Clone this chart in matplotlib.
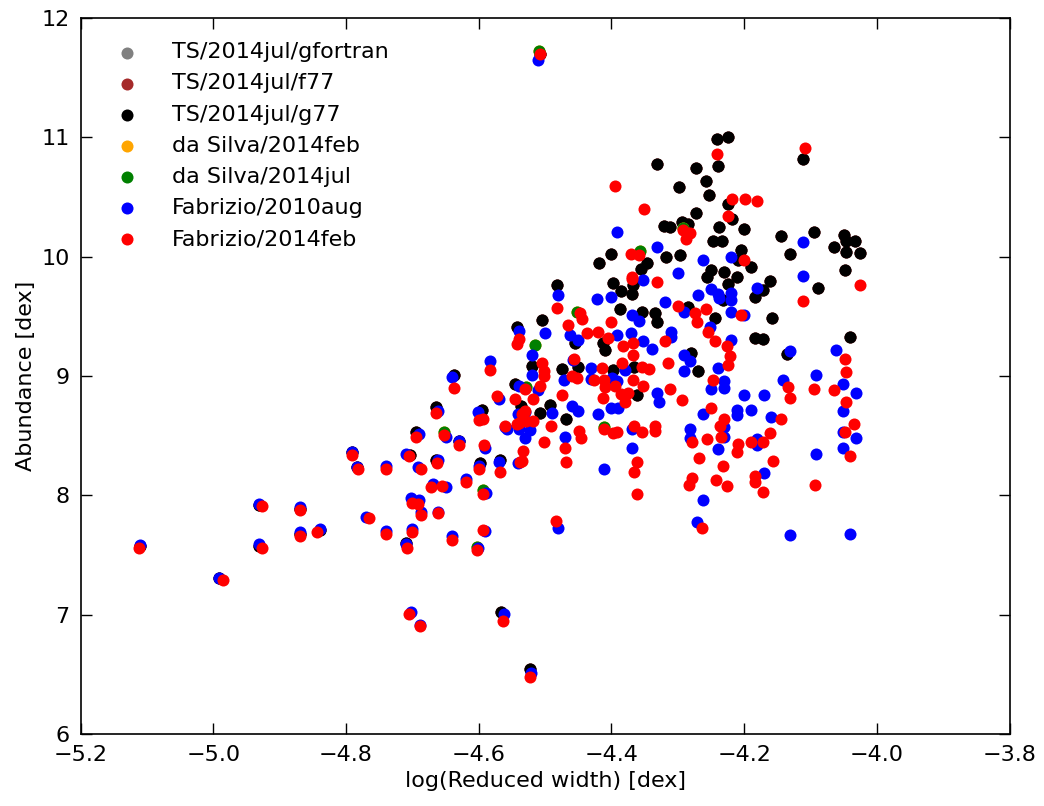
import numpy as np
import matplotlib
matplotlib.use("Agg")
import matplotlib.pyplot as plt
from matplotlib.ticker import MultipleLocator

# === DATA (log reduced width [dex], abundance [dex]) ===
labels = ["TS/2014jul/gfortran", "TS/2014jul/f77", "TS/2014jul/g77",
          "da Silva/2014feb", "da Silva/2014jul",
          "Fabrizio/2010aug", "Fabrizio/2014feb"]
colors = ["gray", "brown", "black", "orange", "green", "blue", "red"]

ts_g77 = [
    (-5.111, 7.58), (-4.991, 7.31), (-4.931, 7.92), (-4.931, 7.58), (-4.870, 7.89),
    (-4.870, 7.68), (-4.839, 7.71), (-4.791, 8.36), (-4.784, 8.24),
    (-4.664, 8.745), (-4.595, 8.72), (-4.545, 8.935), (-4.694, 8.53), (-4.629, 8.46),
    (-4.704, 8.34), (-4.664, 8.30), (-4.568, 8.30), (-4.598, 8.27), (-4.709, 7.60),
    (-4.566, 7.02), (-4.523, 6.545), (-4.637, 9.005), (-4.508, 11.70),
    (-4.482, 9.765), (-4.398, 9.78), (-4.385, 9.71), (-4.369, 9.69), (-4.367, 9.76),
    (-4.387, 9.56), (-4.354, 9.535), (-4.335, 9.53), (-4.332, 9.455), (-4.505, 9.47),
    (-4.543, 9.41), (-4.455, 9.275), (-4.412, 9.275), (-4.410, 9.22), (-4.519, 9.085),
    (-4.475, 9.06), (-4.450, 9.075), (-4.397, 9.05), (-4.366, 9.075), (-4.362, 8.84),
    (-4.536, 8.75), (-4.507, 8.69), (-4.493, 8.76), (-4.469, 8.64),
    (-4.332, 10.78), (-4.400, 10.02), (-4.419, 9.95), (-4.347, 9.95), (-4.356, 9.90),
    (-4.241, 10.985), (-4.225, 11.0), (-4.240, 10.76), (-4.111, 10.82), (-4.272, 10.74),
    (-4.258, 10.635), (-4.298, 10.58), (-4.253, 10.52), (-4.224, 10.44), (-4.273, 10.37),
    (-4.218, 10.315), (-4.321, 10.26), (-4.312, 10.25), (-4.293, 10.29), (-4.284, 10.275),
    (-4.238, 10.245), (-4.200, 10.23), (-4.095, 10.21), (-4.145, 10.17), (-4.247, 10.135),
    (-4.234, 10.13), (-4.204, 10.06), (-4.131, 10.02), (-4.317, 9.995), (-4.296, 10.01),
    (-4.209, 9.97), (-4.190, 9.91), (-4.250, 9.89), (-4.256, 9.83), (-4.230, 9.875),
    (-4.210, 9.83), (-4.225, 9.77), (-4.172, 9.72), (-4.184, 9.66), (-4.161, 9.80),
    (-4.089, 9.735), (-4.232, 9.64), (-4.284, 9.58), (-4.244, 9.49), (-4.158, 9.485),
    (-4.184, 9.32), (-4.171, 9.31), (-4.280, 9.195), (-4.269, 9.04), (-4.136, 9.185),
    (-4.065, 10.08), (-4.049, 10.18), (-4.046, 10.13), (-4.033, 10.13), (-4.046, 10.04),
    (-4.025, 10.03), (-4.048, 9.89), (-4.040, 9.33),
]

dasilva_jul = [
    (-4.652, 8.535), (-4.594, 8.045), (-4.602, 7.57), (-4.509, 11.725), (-4.452, 9.54),
    (-4.528, 8.905), (-4.411, 8.575), (-4.357, 10.045), (-4.292, 10.24), (-4.515, 9.26),
]

fab_2010aug = [
    (-5.111, 7.585), (-4.991, 7.31), (-4.931, 7.93), (-4.931, 7.59), (-4.870, 7.90),
    (-4.870, 7.69), (-4.839, 7.72), (-4.791, 8.36), (-4.784, 8.24),
    (-4.640, 8.99), (-4.570, 8.81), (-4.540, 8.555), (-4.662, 8.71), (-4.601, 8.70),
    (-4.557, 8.555), (-4.690, 8.515), (-4.650, 8.49), (-4.629, 8.46), (-4.590, 8.395),
    (-4.710, 8.35), (-4.662, 8.30), (-4.569, 8.28), (-4.541, 8.275), (-4.740, 8.25),
    (-4.691, 8.24), (-4.599, 8.25), (-4.669, 8.10), (-4.649, 8.07), (-4.619, 8.135),
    (-4.589, 8.02), (-4.702, 7.98), (-4.690, 7.96), (-4.770, 7.82), (-4.687, 7.86),
    (-4.661, 7.865), (-4.739, 7.70), (-4.700, 7.72), (-4.640, 7.66), (-4.590, 7.70),
    (-4.710, 7.59), (-4.601, 7.56), (-4.702, 7.02), (-4.688, 6.915), (-4.562, 7.005),
    (-4.481, 7.73), (-4.521, 6.51), (-4.510, 11.65), (-4.583, 9.13),
    (-4.481, 9.68), (-4.352, 9.805), (-4.421, 9.645), (-4.401, 9.66), (-4.369, 9.51),
    (-4.359, 9.465), (-4.540, 9.38), (-4.500, 9.36), (-4.462, 9.345), (-4.450, 9.30),
    (-4.391, 9.345), (-4.370, 9.36), (-4.352, 9.29), (-4.339, 9.23), (-4.520, 9.18),
    (-4.520, 9.01), (-4.472, 8.97), (-4.458, 9.135), (-4.431, 9.07), (-4.380, 9.05),
    (-4.431, 8.975), (-4.392, 8.955), (-4.399, 8.98), (-4.332, 8.855), (-4.329, 8.785),
    (-4.540, 8.92), (-4.510, 8.88), (-4.541, 8.68), (-4.530, 8.70), (-4.490, 8.69),
    (-4.460, 8.75), (-4.450, 8.71), (-4.420, 8.68), (-4.400, 8.73), (-4.390, 8.73),
    (-4.560, 8.575), (-4.530, 8.48), (-4.523, 8.55), (-4.470, 8.49), (-4.369, 8.40),
    (-4.369, 8.555), (-4.411, 8.22),
    (-4.391, 10.21), (-4.332, 10.08),
    (-4.111, 10.12), (-4.262, 9.97), (-4.220, 10.0), (-4.300, 9.86), (-4.180, 9.735),
    (-4.111, 9.84), (-4.270, 9.675), (-4.250, 9.73), (-4.240, 9.69), (-4.238, 9.65),
    (-4.220, 9.70), (-4.220, 9.64), (-4.320, 9.62), (-4.290, 9.54), (-4.220, 9.54),
    (-4.200, 9.51), (-4.251, 9.41), (-4.310, 9.37), (-4.310, 9.33), (-4.220, 9.30),
    (-4.131, 9.21),
    (-4.290, 9.18), (-4.281, 9.13), (-4.290, 9.04), (-4.240, 9.065), (-4.141, 8.97),
    (-4.091, 9.01), (-4.230, 8.96), (-4.230, 8.90), (-4.250, 8.89), (-4.200, 8.84),
    (-4.170, 8.84), (-4.210, 8.72), (-4.210, 8.675), (-4.190, 8.72), (-4.262, 8.68),
    (-4.160, 8.655), (-4.281, 8.555), (-4.281, 8.485), (-4.230, 8.57), (-4.230, 8.49),
    (-4.240, 8.39), (-4.180, 8.47), (-4.180, 8.42), (-4.091, 8.35), (-4.170, 8.19),
    (-4.262, 7.96), (-4.271, 7.78), (-4.131, 7.67),
    (-4.061, 9.22), (-4.051, 8.93), (-4.031, 8.86), (-4.051, 8.71), (-4.051, 8.53),
    (-4.031, 8.48), (-4.051, 8.40), (-4.041, 7.68),
]

fab_2014feb = [
    (-5.112, 7.56), (-4.986, 7.29), (-4.926, 7.91), (-4.926, 7.56), (-4.870, 7.88),
    (-4.869, 7.66), (-4.844, 7.69), (-4.791, 8.34), (-4.782, 8.22),
    (-4.637, 8.90), (-4.573, 8.83), (-4.545, 8.81), (-4.664, 8.69), (-4.599, 8.63),
    (-4.593, 8.64), (-4.561, 8.58), (-4.543, 8.60), (-4.694, 8.49), (-4.652, 8.51),
    (-4.629, 8.42), (-4.592, 8.42), (-4.705, 8.33), (-4.663, 8.27), (-4.568, 8.20),
    (-4.538, 8.28), (-4.739, 8.22), (-4.687, 8.22), (-4.599, 8.22), (-4.672, 8.07),
    (-4.655, 8.08), (-4.619, 8.11), (-4.594, 8.01), (-4.700, 7.94), (-4.691, 7.93),
    (-4.765, 7.81), (-4.687, 7.84), (-4.661, 7.85), (-4.739, 7.68), (-4.700, 7.69),
    (-4.640, 7.63), (-4.594, 7.71), (-4.708, 7.56), (-4.602, 7.54), (-4.705, 7.01),
    (-4.688, 6.91), (-4.564, 6.95), (-4.484, 7.79), (-4.523, 6.48), (-4.508, 11.70),
    (-4.583, 9.05),
    (-4.482, 9.57), (-4.369, 9.81), (-4.332, 9.79), (-4.448, 9.53), (-4.444, 9.48),
    (-4.465, 9.43), (-4.437, 9.36), (-4.420, 9.37), (-4.405, 9.32), (-4.400, 9.45),
    (-4.382, 9.25), (-4.368, 9.28), (-4.367, 9.18), (-4.540, 9.31), (-4.543, 9.27),
    (-4.504, 9.11), (-4.502, 9.04), (-4.502, 9.00), (-4.460, 9.00), (-4.452, 8.98),
    (-4.457, 9.14), (-4.414, 9.07), (-4.384, 9.11), (-4.354, 9.08), (-4.344, 9.06),
    (-4.427, 8.97), (-4.411, 8.97), (-4.409, 8.91), (-4.395, 8.92), (-4.413, 8.82),
    (-4.385, 8.85), (-4.375, 8.86), (-4.380, 8.78), (-4.367, 8.97), (-4.352, 8.92),
    (-4.530, 8.89), (-4.518, 8.81), (-4.508, 8.92), (-4.475, 8.84), (-4.535, 8.68),
    (-4.531, 8.71), (-4.540, 8.61), (-4.528, 8.62), (-4.518, 8.62), (-4.491, 8.58),
    (-4.502, 8.45), (-4.449, 8.54), (-4.446, 8.48), (-4.470, 8.40), (-4.468, 8.28),
    (-4.411, 8.56), (-4.397, 8.52), (-4.392, 8.53), (-4.366, 8.58), (-4.354, 8.53),
    (-4.334, 8.58), (-4.334, 8.54), (-4.362, 8.28), (-4.366, 8.20), (-4.362, 8.01),
    (-4.533, 8.37), (-4.535, 8.29),
    (-4.395, 10.59), (-4.351, 10.40), (-4.371, 10.02), (-4.358, 10.01), (-4.369, 9.83),
    (-4.241, 10.86), (-4.109, 10.91), (-4.219, 10.48), (-4.199, 10.48), (-4.180, 10.47),
    (-4.224, 10.34), (-4.292, 10.22), (-4.282, 10.20), (-4.288, 10.15), (-4.200, 9.975),
    (-4.111, 9.63), (-4.300, 9.59), (-4.274, 9.53), (-4.258, 9.56), (-4.271, 9.45),
    (-4.204, 9.51), (-4.255, 9.37), (-4.319, 9.29), (-4.244, 9.29), (-4.226, 9.25),
    (-4.222, 9.17), (-4.224, 9.09), (-4.314, 9.11), (-4.247, 8.97), (-4.134, 8.91),
    (-4.131, 8.82), (-4.095, 8.89), (-4.312, 8.89), (-4.293, 8.80), (-4.250, 8.73),
    (-4.145, 8.64), (-4.279, 8.45), (-4.256, 8.475), (-4.235, 8.49), (-4.236, 8.585),
    (-4.230, 8.64), (-4.209, 8.43), (-4.210, 8.36), (-4.190, 8.45), (-4.172, 8.45),
    (-4.161, 8.52), (-4.157, 8.29), (-4.268, 8.31), (-4.232, 8.25), (-4.278, 8.15),
    (-4.283, 8.09), (-4.243, 8.13), (-4.226, 8.08), (-4.184, 8.16), (-4.184, 8.115),
    (-4.172, 8.025), (-4.093, 8.09), (-4.264, 7.725),
    (-4.025, 9.76), (-4.048, 9.14), (-4.046, 9.03), (-4.065, 8.88), (-4.047, 8.78),
    (-4.034, 8.60), (-4.048, 8.53), (-4.040, 8.33),
]

# the three TS builds agree, both da Silva runs agree
series = [ts_g77, ts_g77, ts_g77, dasilva_jul, dasilva_jul, fab_2010aug, fab_2014feb]

plt.rcParams['font.family'] = ['DejaVu Sans']
plt.rcParams['font.size'] = 16

fig, ax = plt.subplots(figsize=(10.44, 8.06), dpi=100)
fig.subplots_adjust(left=0.0772, right=0.967, top=0.9778, bottom=0.089)

for data, color, label in zip(series, colors, labels):
    pts = np.array(data)
    ax.scatter(pts[:, 0], pts[:, 1], s=75, c=color, linewidths=0, label=label)

ax.set_xlim(-5.2, -3.8)
ax.set_ylim(6, 12)
ax.xaxis.set_major_locator(MultipleLocator(0.2))
ax.yaxis.set_major_locator(MultipleLocator(1))
ax.tick_params(direction='in', length=8, width=1, top=True, right=True, pad=8)
for sp in ax.spines.values():
    sp.set_linewidth(1.2)

ax.set_xlabel("log(Reduced width) [dex]")
ax.set_ylabel("Abundance [dex]")

ax.legend(loc='upper left', frameon=False, scatterpoints=1, fontsize=16,
          borderaxespad=0.7, borderpad=0.4, handlelength=2.0,
          handletextpad=1.0, labelspacing=0.5)

fig.savefig("out.png", dpi=100)
